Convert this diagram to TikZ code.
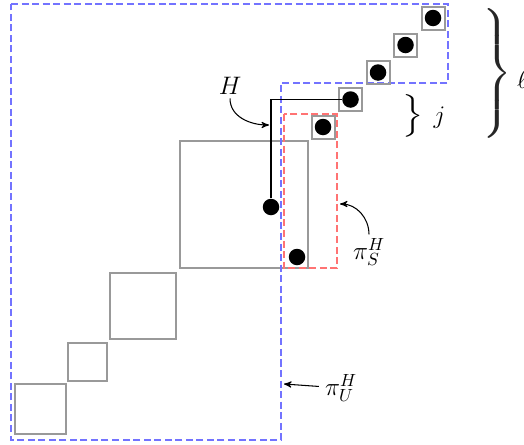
\documentclass[tikz,border=0pt]{standalone}
\usepackage{graphicx}
\usetikzlibrary{arrows}

\tikzstyle{blk} = [draw=black!40, line width=0.04cm]
\tikzstyle{cell} = [blk, minimum size=0.46cm, inner sep=0]
\tikzstyle{dot} = [circle, fill=black, minimum size=0.33cm, inner sep=0]
\tikzstyle{part} = [dash pattern=on 4pt off 2pt, line width=0.03cm]

\begin{document}
\begin{tikzpicture}[font=\Large]
		\useasboundingbox (0,0) rectangle (10.48,8.88);

		% blocks on the diagonal
		\draw [blk] (3.60,6.06) rectangle (6.16,3.52);
		\draw [blk] (2.20,3.42) rectangle (3.52,2.10);
		\draw [blk] (1.36,2.02) rectangle (2.14,1.26);
		\draw [blk] (0.30,1.20) rectangle (1.32,0.20);

		% partitions
		\draw [part, blue!55] (0.22,8.80) -- (8.96,8.80) -- (8.96,7.22) -- (5.62,7.22) -- (5.62,0.08) -- (0.22,0.08) -- cycle;
		\draw [part, red!55] (5.68,6.60) rectangle (6.74,3.52);

		\node [cell] at (6.46,6.34) (c1) {};
		\node [cell] at (7.01,6.89) (c2) {};
		\node [cell] at (7.56,7.43) (c3) {};
		\node [cell] at (8.11,7.98) (c4) {};
		\node [cell] at (8.66,8.52) (c5) {};
		\node [dot] at (6.46,6.34) (d1) {};
		\node [dot] at (7.01,6.89) (d2) {};
		\node [dot] at (7.56,7.43) (d3) {};
		\node [dot] at (8.11,7.98) (d4) {};
		\node [dot] at (8.66,8.52) (d5) {};
		\node [dot] at (5.42,4.74) (dh) {};
		\node [dot] at (5.94,3.74) (ds) {};

		\draw [semithick] (dh) |- (d2);

		% labels
		\node [inner sep=2pt] at (4.60,7.16) (hlabel) {$H$};
		\coordinate (hend) at (5.38,6.38);
		\draw [-stealth',semithick] (hlabel.south) to [out=-90, in=180] (hend);

		\node [inner sep=2pt] at (7.38,3.84) (pis) {$\pi_S^H$};
		\coordinate (send) at (6.80,4.80);
		\draw [-stealth',semithick] (pis.north) to [out=90, in=0] (send);

		\node at (6.82,1.12) (piu) {$\pi_U^H$};
		\coordinate (uend) at (5.68,1.20);
		\draw [-stealth',semithick] (piu) -- (uend);

		\node at (8.22,6.57) (jbrace) {\scalebox{1.8}[1.35]{$\left.\vcenter{\hrule height 0.66cm width 0pt}\right\}$}};
		\node [anchor=west] at (8.55,6.52) (jlabel) {$j$};

		\node [black!85] at (9.90,7.42) (lbrace) {\scalebox{1.9}[1.76]{$\left.\vcenter{\hrule height 1.46cm width 0pt}\right\}$}};
		\node [anchor=west] at (10.22,7.28) (llabel) {$\ell$};
	\end{tikzpicture}
\end{document}
